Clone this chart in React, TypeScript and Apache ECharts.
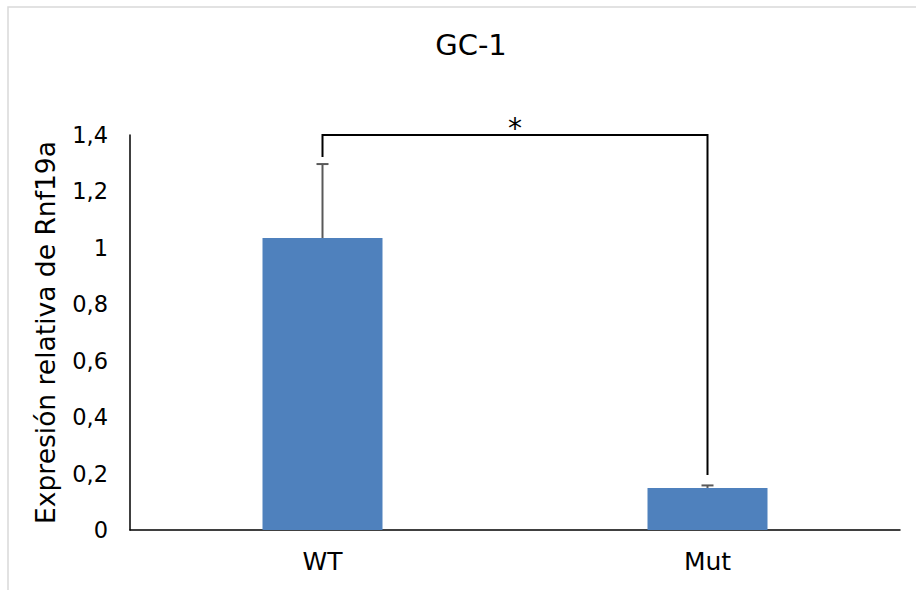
import React, { useEffect, useRef } from "react";
import * as echarts from "echarts";

const categories = ["WT", "Mut"];
const values = [1.035, 0.149];
const errorTops = [1.297, 0.158];
const yTicks = { min: 0, max: 1.4, interval: 0.2 };
const bracket = { from: 0, to: 1, startY: 1.322, endY: 0.195, topY: 1.4, label: "*" };
const titleText = "GC-1";
const yName = "Expresión relativa de Rnf19a";

const FONT = "'DejaVu Sans', Verdana, sans-serif";

export default function App() {
  const ref = useRef<HTMLDivElement>(null);
  useEffect(() => {
    if (!ref.current) return;
    const chart = echarts.init(ref.current, null, { renderer: "svg" });
    chart.setOption({
      animation: false,
      backgroundColor: "#ffffff",
      title: {
        text: titleText,
        left: 466,
        top: 25,
        textAlign: "center",
        textStyle: { fontFamily: FONT, fontSize: 29, fontWeight: "normal", color: "#000" },
      },
      graphic: [
        {
          type: "rect",
          shape: { x: 8, y: 7, width: 1200, height: 1200 },
          style: { fill: "none", stroke: "#d9d9d9", lineWidth: 1.5 },
          silent: true,
        },
      ],
      grid: { left: 130, right: 16, top: 135, bottom: 60 },
      xAxis: {
        type: "category",
        data: categories,
        axisTick: { show: false },
        axisLine: { lineStyle: { color: "#000", width: 1.5 } },
        axisLabel: { fontFamily: FONT, fontSize: 25, color: "#000", margin: 19 },
      },
      yAxis: {
        type: "value",
        min: yTicks.min,
        max: yTicks.max,
        interval: yTicks.interval,
        name: yName,
        nameLocation: "middle",
        nameGap: 71,
        nameTextStyle: { fontFamily: FONT, fontSize: 26.5, color: "#000" },
        axisLine: { show: true, lineStyle: { color: "#000", width: 1.5 } },
        axisTick: { show: false },
        splitLine: { show: false },
        axisLabel: {
          fontFamily: FONT,
          fontSize: 22.5,
          color: "#000",
          margin: 22,
          formatter: (v: number) => String(Math.round(v * 10) / 10).replace(".", ","),
        },
      },
      series: [
        {
          type: "bar",
          data: values,
          barWidth: 120,
          itemStyle: { color: "#4f81bd" },
        },
        {
          type: "custom",
          data: categories.map((_, i) => [i, values[i], errorTops[i]]),
          z: 5,
          renderItem: (params: any, api: any) => {
            const x = api.value(0);
            const low = api.coord([x, api.value(1)]);
            const high = api.coord([x, api.value(2)]);
            const stroke = { stroke: "#595959", lineWidth: 2 };
            return {
              type: "group",
              children: [
                { type: "line", shape: { x1: low[0], y1: low[1], x2: high[0], y2: high[1] }, style: stroke },
                { type: "line", shape: { x1: high[0] - 6, y1: high[1], x2: high[0] + 6, y2: high[1] }, style: stroke },
              ],
            };
          },
        },
        {
          type: "custom",
          data: [[bracket.from, bracket.to, bracket.startY, bracket.endY, bracket.topY]],
          z: 6,
          renderItem: (params: any, api: any) => {
            const a = api.coord([api.value(0), api.value(2)]);
            const b = api.coord([api.value(1), api.value(3)]);
            const topA = api.coord([api.value(0), api.value(4)]);
            const topB = api.coord([api.value(1), api.value(4)]);
            return {
              type: "group",
              children: [
                {
                  type: "polyline",
                  shape: { points: [a, topA, topB, b] },
                  style: { stroke: "#000", lineWidth: 2, fill: "none" },
                },
                {
                  type: "text",
                  style: {
                    text: bracket.label,
                    x: (topA[0] + topB[0]) / 2,
                    y: topA[1] - 7,
                    align: "center",
                    verticalAlign: "middle",
                    fontFamily: FONT,
                    fontSize: 28,
                    fill: "#000",
                  },
                },
              ],
            };
          },
        },
      ],
    });
    return () => chart.dispose();
  }, []);
  return (
    <div
      ref={ref}
      style={{ position: "absolute", left: 0, top: 0, width: 916, height: 590 }}
    />
  );
}
